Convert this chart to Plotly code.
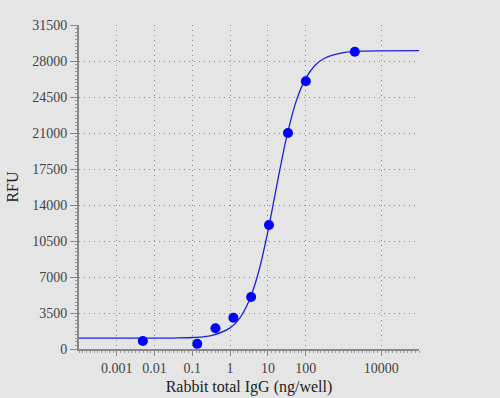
import plotly.graph_objects as go

# Measured data points (ng/well, RFU)
conc = [0.0049, 0.135, 0.41, 1.22, 3.6, 10.7, 34, 101, 2000]
rfu = [780, 500, 2010, 3040, 5050, 12050, 21000, 26025, 28900]

# Fitted curve
curve_x = [0.0001, 0.001, 0.01, 0.0316, 0.1, 0.316, 1, 1.78, 3.16, 5.62, 10, 17.8,
           31.6, 56.2, 100, 178, 316, 1000, 3162, 10000, 100000]
curve_y = [1050, 1050, 1054, 1067, 1116, 1309, 2055, 2987, 4666, 7441, 11440, 16183,
           20670, 24096, 26305, 27582, 28271, 28813, 28953, 28988, 29000]

x_tickvals = [0.001, 0.01, 0.1, 1, 10, 100, 10000, 100000]
x_ticktext = ["0.001", "0.01", "0.1", "1", "10", "100", "10000", ""]
y_tickvals = [0, 3500, 7000, 10500, 14000, 17500, 21000, 24500, 28000, 31500]
y_ticktext = ["0", "3500", "7000", "10500", "14000", "17500", "21000", "24500", "28000", "31500"]

fig = go.Figure()
fig.add_trace(go.Scatter(x=curve_x, y=curve_y, mode="lines",
                         line=dict(color="#1f1fe0", width=1.3, shape="spline"),
                         hoverinfo="skip", showlegend=False))
fig.add_trace(go.Scatter(x=conc, y=rfu, mode="markers",
                         marker=dict(color="#0000ff", size=10),
                         showlegend=False))

font = "Liberation Serif"
minor_x = [10 ** (-4 + i * 0.1) for i in range(91)]
tickfont = dict(family=font, size=14, color="#444")
titlefont = dict(family=font, size=16, color="#222")

fig.update_layout(
    width=500, height=398,
    margin=dict(l=79, r=81, t=25, b=49),
    paper_bgcolor="#e5e5e5", plot_bgcolor="#e5e5e5",
    font=dict(family=font, size=14, color="#444"),
    xaxis=dict(
        type="log", range=[-4, 5], automargin=False,
        tickmode="array", tickvals=x_tickvals, ticktext=x_ticktext,
        ticks="outside", ticklen=5, tickcolor="#888", tickwidth=1,
        showline=True, linecolor="#888", linewidth=2,
        showgrid=True, gridcolor="#8a8a8a", griddash="1px,4px", gridwidth=1,
        zeroline=False,
        minor=dict(tickmode="array", tickvals=minor_x, ticks="outside", ticklen=2,
                   tickcolor="#999", showgrid=False),
        title=dict(text="Rabbit total IgG (ng/well)", font=titlefont, standoff=6),
        tickfont=tickfont,
    ),
    yaxis=dict(
        range=[0, 31500], automargin=False,
        tickmode="array", tickvals=y_tickvals, ticktext=y_ticktext,
        ticks="outside", ticklen=7, tickcolor="#888", tickwidth=1,
        showline=True, linecolor="#888", linewidth=2,
        showgrid=True, gridcolor="#8a8a8a", griddash="1px,4px", gridwidth=1,
        zeroline=False,
        minor=dict(dtick=350, ticks="outside", ticklen=2, tickcolor="#999", showgrid=False),
        title=dict(text="RFU", font=titlefont, standoff=10),
        tickfont=tickfont,
    ),
)

fig.write_html(
    "out.html",
    config={"displayModeBar": False},
    post_script="document.body.style.margin='0';document.body.style.background='#e5e5e5';",
)
